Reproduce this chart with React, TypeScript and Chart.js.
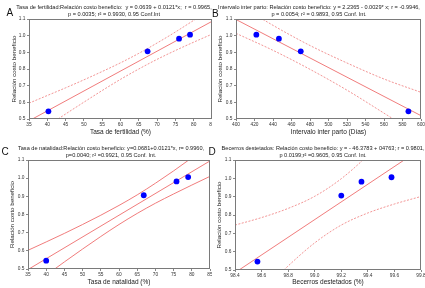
import React, { useEffect, useRef } from "react";
import { Chart, registerables } from "chart.js";

Chart.register(...registerables);

// ---------- data ----------
const yTicks = [0.5, 0.6, 0.7, 0.8, 0.9, 1.0, 1.1];
const costBenefit = [0.546, 0.906, 0.982, 1.006];

// A: Tasa de fertilidad
const xTicksA = [35, 40, 45, 50, 55, 60, 65, 70, 75, 80, 85];
const fertX = [40.3, 67.4, 76.0, 79.0];
const fitXA = [35, 85];
const fitYA = [0.489, 1.086];
const curveXA = [35, 40, 45, 50, 55, 60, 65, 70, 75, 80, 85];
const upperA = [0.595, 0.641, 0.687, 0.735, 0.785, 0.837, 0.894, 0.956, 1.022, 1.092, 1.163];
const lowerA = [0.384, 0.457, 0.53, 0.601, 0.671, 0.738, 0.8, 0.858, 0.911, 0.961, 1.009];

// B: Intervalo inter parto
const xTicksB = [400, 420, 440, 460, 480, 500, 520, 540, 560, 580, 600];
const ipX = [422, 446.4, 470, 586.4];
const ipY = [1.006, 0.982, 0.906, 0.546];
const fitXB = [400, 600];
const fitYB = [1.097, 0.52];
const curveXB = [400, 440, 480, 520, 560, 600];
const upperB = [1.197, 1.062, 0.941, 0.836, 0.74, 0.66];
const lowerB = [1.014, 0.912, 0.798, 0.673, 0.535, 0.395];

// C: Tasa de natalidad
const xTicksC = [35, 40, 45, 50, 55, 60, 65, 70, 75, 80, 85];
const natX = [40.0, 66.8, 75.8, 79.0];
const fitXC = [35, 85];
const fitYC = [0.497, 1.095];
const curveXC = [35, 40, 45, 50, 55, 60, 65, 70, 75, 80, 85];
const upperC = [0.603, 0.649, 0.696, 0.745, 0.796, 0.85, 0.908, 0.972, 1.04, 1.112, 1.186];
const lowerC = [0.392, 0.466, 0.539, 0.61, 0.679, 0.745, 0.806, 0.862, 0.913, 0.962, 1.01];

// D: Becerros destetados
const xTicksD = [98.4, 98.6, 98.8, 99.0, 99.2, 99.4, 99.6, 99.8];
const becX = [98.569, 99.2, 99.352, 99.578];
const fitXD = [98.4, 99.8];
const fitYD = [0.4855, 1.161];
const curveXD = [98.4, 98.6, 98.8, 99.0, 99.2, 99.4, 99.6, 99.8];
const upperD = [0.745, 0.786, 0.836, 0.902, 0.998, 1.125, 1.269, 1.42];
const lowerD = [0.226, 0.378, 0.522, 0.648, 0.745, 0.811, 0.86, 0.901];

const FONT = '"Liberation Sans", Arial, Helvetica, sans-serif';
const LINE = "rgba(238, 110, 110, 0.9)";
const BAND = "rgba(240, 130, 130, 0.85)";
const X_AXIS_H = 12;

type Panel = {
  letter: string;
  left: number;
  top: number;
  width: number;
  height: number;
  canvasWidth: number;
  area: { l: number; t: number; r: number; b: number };
  xTicks: number[];
  xDec: number;
  px: number[];
  py: number[];
  fitX: number[];
  fitY: number[];
  cx: number[];
  upper: number[];
  lower: number[];
  dashed: boolean;
  title: string[];
  titleX: number;
  titleY: number[];
  xTitle: string;
  xTitleY: number;
  yTitle: string;
  yTitleX: number;
};

const panels: Panel[] = [
  {
    letter: "A",
    left: 0,
    top: 0,
    width: 212,
    height: 144,
    canvasWidth: 225,
    area: { l: 29, t: 19, r: 212, b: 119 },
    xTicks: xTicksA,
    xDec: 0,
    px: fertX,
    py: costBenefit,
    fitX: fitXA,
    fitY: fitYA,
    cx: curveXA,
    upper: upperA,
    lower: lowerA,
    dashed: true,
    title: [
      "Tasa de fertilidad:Relación costo beneficio:  y = 0.0639 + 0.0121*x;  r = 0.9965,",
      "p = 0.0035; r² = 0.9930, 0.95 Conf.Int",
    ],
    titleX: 114,
    titleY: [7, 14.5],
    xTitle: "Tasa de fertilidad (%)",
    xTitleY: 132,
    yTitle: "Relación costo beneficio",
    yTitleX: 14.5,
  },
  {
    letter: "B",
    left: 212,
    top: 0,
    width: 213,
    height: 144,
    canvasWidth: 213,
    area: { l: 24, t: 19, r: 210, b: 119 },
    xTicks: xTicksB,
    xDec: 0,
    px: ipX,
    py: ipY,
    fitX: fitXB,
    fitY: fitYB,
    cx: curveXB,
    upper: upperB,
    lower: lowerB,
    dashed: true,
    title: [
      "Intervalo inter parto: Relación costo beneficio: y = 2.2365 - 0.0029* x; r = -0.9946,",
      "p = 0.0054; r² = 0.9893, 0.95 Conf. Int.",
    ],
    titleX: 107,
    titleY: [7, 14.5],
    xTitle: "Intervalo inter parto (Días)",
    xTitleY: 132,
    yTitle: "Relación costo beneficio",
    yTitleX: 8.5,
  },
  {
    letter: "C",
    left: 0,
    top: 144,
    width: 212,
    height: 144,
    canvasWidth: 225,
    area: { l: 28, t: 16, r: 210, b: 125 },
    xTicks: xTicksC,
    xDec: 0,
    px: natX,
    py: costBenefit,
    fitX: fitXC,
    fitY: fitYC,
    cx: curveXC,
    upper: upperC,
    lower: lowerC,
    dashed: false,
    title: [
      "Tasa de natalidad:Relación costo beneficio: y=0.0681+0.0121*x, r= 0.9960,",
      "p=0.0040; r² =0.9921, 0.95 Conf. Int.",
    ],
    titleX: 111,
    titleY: [4.8, 11.5],
    xTitle: "Tasa de natalidad (%)",
    xTitleY: 138,
    yTitle: "Relación costo beneficio",
    yTitleX: 12.5,
  },
  {
    letter: "D",
    left: 212,
    top: 144,
    width: 213,
    height: 144,
    canvasWidth: 213,
    area: { l: 23, t: 16, r: 210, b: 126 },
    xTicks: xTicksD,
    xDec: 1,
    px: becX,
    py: costBenefit,
    fitX: fitXD,
    fitY: fitYD,
    cx: curveXD,
    upper: upperD,
    lower: lowerD,
    dashed: true,
    title: [
      "Becerros destetados: Relación costo beneficio: y = - 46.3783 + 04763; r = 0.9801,",
      "p 0.0199;r² =0.9605, 0.95 Conf. Int.",
    ],
    titleX: 111,
    titleY: [4.8, 11.5],
    xTitle: "Becerros destetados (%)",
    xTitleY: 138,
    yTitle: "Relación costo beneficio",
    yTitleX: 7.5,
  },
];

function PanelChart({ p }: { p: Panel }) {
  const ref = useRef<HTMLCanvasElement>(null);

  useEffect(() => {
    const canvas = ref.current;
    if (!canvas) return;
    const { area } = p;
    const toPts = (xs: number[], ys: number[]) => xs.map((x, i) => ({ x, y: ys[i] }));

    const textPlugin = {
      id: "panelText" + p.letter,
      afterDraw(chart: any) {
        const ctx = chart.ctx as CanvasRenderingContext2D;
        const ca = chart.chartArea;
        ctx.save();
        // frame
        ctx.strokeStyle = "#7a7a7a";
        ctx.lineWidth = 1;
        ctx.strokeRect(
          Math.round(ca.left) + 0.5,
          Math.round(ca.top) + 0.5,
          Math.round(ca.right - ca.left) - 1,
          Math.round(ca.bottom - ca.top) - 1
        );
        ctx.fillStyle = "#1a1a1a";
        ctx.textAlign = "center";
        ctx.textBaseline = "middle";
        // title
        ctx.font = `5.6px ${FONT}`;
        p.title.forEach((line, i) => ctx.fillText(line, p.titleX, p.titleY[i]));
        // x title
        ctx.font = `6.5px ${FONT}`;
        ctx.fillText(p.xTitle, (ca.left + ca.right) / 2, p.xTitleY);
        // y title
        ctx.font = `6.2px ${FONT}`;
        ctx.translate(p.yTitleX, (ca.top + ca.bottom) / 2);
        ctx.rotate(-Math.PI / 2);
        ctx.fillText(p.yTitle, 0, 0);
        ctx.restore();
      },
    };

    const tickFont = { size: 4.8, family: FONT };
    const dash = p.dashed ? [2, 1.5] : [];

    const chart = new Chart(canvas, {
      type: "scatter",
      data: {
        datasets: [
          {
            data: toPts(p.px, p.py),
            pointRadius: 2.9,
            pointBackgroundColor: "#0000ff",
            pointBorderWidth: 0,
            showLine: false,
          } as any,
          {
            data: toPts(p.fitX, p.fitY),
            showLine: true,
            pointRadius: 0,
            borderColor: LINE,
            borderWidth: 1,
          },
          {
            data: toPts(p.cx, p.upper),
            showLine: true,
            pointRadius: 0,
            borderColor: p.dashed ? BAND : LINE,
            borderWidth: 1,
            borderDash: dash,
            cubicInterpolationMode: "monotone",
          },
          {
            data: toPts(p.cx, p.lower),
            showLine: true,
            pointRadius: 0,
            borderColor: p.dashed ? BAND : LINE,
            borderWidth: 1,
            borderDash: dash,
            cubicInterpolationMode: "monotone",
          },
        ],
      },
      options: {
        animation: false,
        responsive: false,
        maintainAspectRatio: false,
        events: [],
        layout: {
          padding: {
            left: 0,
            top: area.t,
            right: p.canvasWidth - area.r,
            bottom: p.height - area.b - X_AXIS_H,
          },
        },
        plugins: {
          legend: { display: false },
          tooltip: { enabled: false },
          title: { display: false },
        },
        scales: {
          x: {
            type: "linear",
            min: p.xTicks[0],
            max: p.xTicks[p.xTicks.length - 1],
            afterBuildTicks: (s: any) => {
              s.ticks = p.xTicks.map((v) => ({ value: v }));
            },
            afterFit: (s: any) => {
              s.height = X_AXIS_H;
              s.paddingLeft = 0;
              s.paddingRight = 0;
            },
            ticks: {
              autoSkip: false,
              maxRotation: 0,
              minRotation: 0,
              padding: 1,
              color: "#333",
              font: tickFont,
              callback: (v: any) => Number(v).toFixed(p.xDec),
            },
            grid: { display: true, drawOnChartArea: false, drawTicks: true, tickLength: 2, color: "#888" },
            border: { display: false },
          },
          y: {
            type: "linear",
            min: 0.5,
            max: 1.1,
            afterBuildTicks: (s: any) => {
              s.ticks = yTicks.map((v) => ({ value: v }));
            },
            afterFit: (s: any) => {
              s.width = area.l;
              s.paddingTop = 0;
              s.paddingBottom = 0;
            },
            ticks: {
              autoSkip: false,
              padding: 1.5,
              color: "#333",
              font: tickFont,
              callback: (v: any) => Number(v).toFixed(1),
            },
            grid: { display: true, drawOnChartArea: false, drawTicks: true, tickLength: 2, color: "#888" },
            border: { display: false },
          },
        },
      } as any,
      plugins: [textPlugin],
    });
    return () => chart.destroy();
  }, [p]);

  return (
    <div
      style={{
        position: "absolute",
        left: p.left,
        top: p.top,
        width: p.width,
        height: p.height,
        overflow: "hidden",
      }}
    >
      <canvas
        ref={ref}
        width={p.canvasWidth}
        height={p.height}
        style={{ display: "block", width: p.canvasWidth, height: p.height }}
      />
    </div>
  );
}

const letterPos: Record<string, { x: number; y: number }> = {
  A: { x: 6.5, y: 7.5 },
  B: { x: 212, y: 8.5 },
  C: { x: 1.5, y: 146.5 },
  D: { x: 208.5, y: 146.5 },
};

export default function App() {
  return (
    <div
      style={{
        position: "absolute",
        left: 0,
        top: 0,
        width: 425,
        height: 288,
        background: "#fff",
        overflow: "hidden",
      }}
    >
      {panels.map((p) => (
        <PanelChart key={p.letter} p={p} />
      ))}
      {panels.map((p) => (
        <div
          key={"l" + p.letter}
          style={{
            position: "absolute",
            left: letterPos[p.letter].x,
            top: letterPos[p.letter].y,
            fontFamily: FONT,
            fontSize: 10,
            lineHeight: "10px",
            color: "#111",
          }}
        >
          {p.letter}
        </div>
      ))}
    </div>
  );
}
